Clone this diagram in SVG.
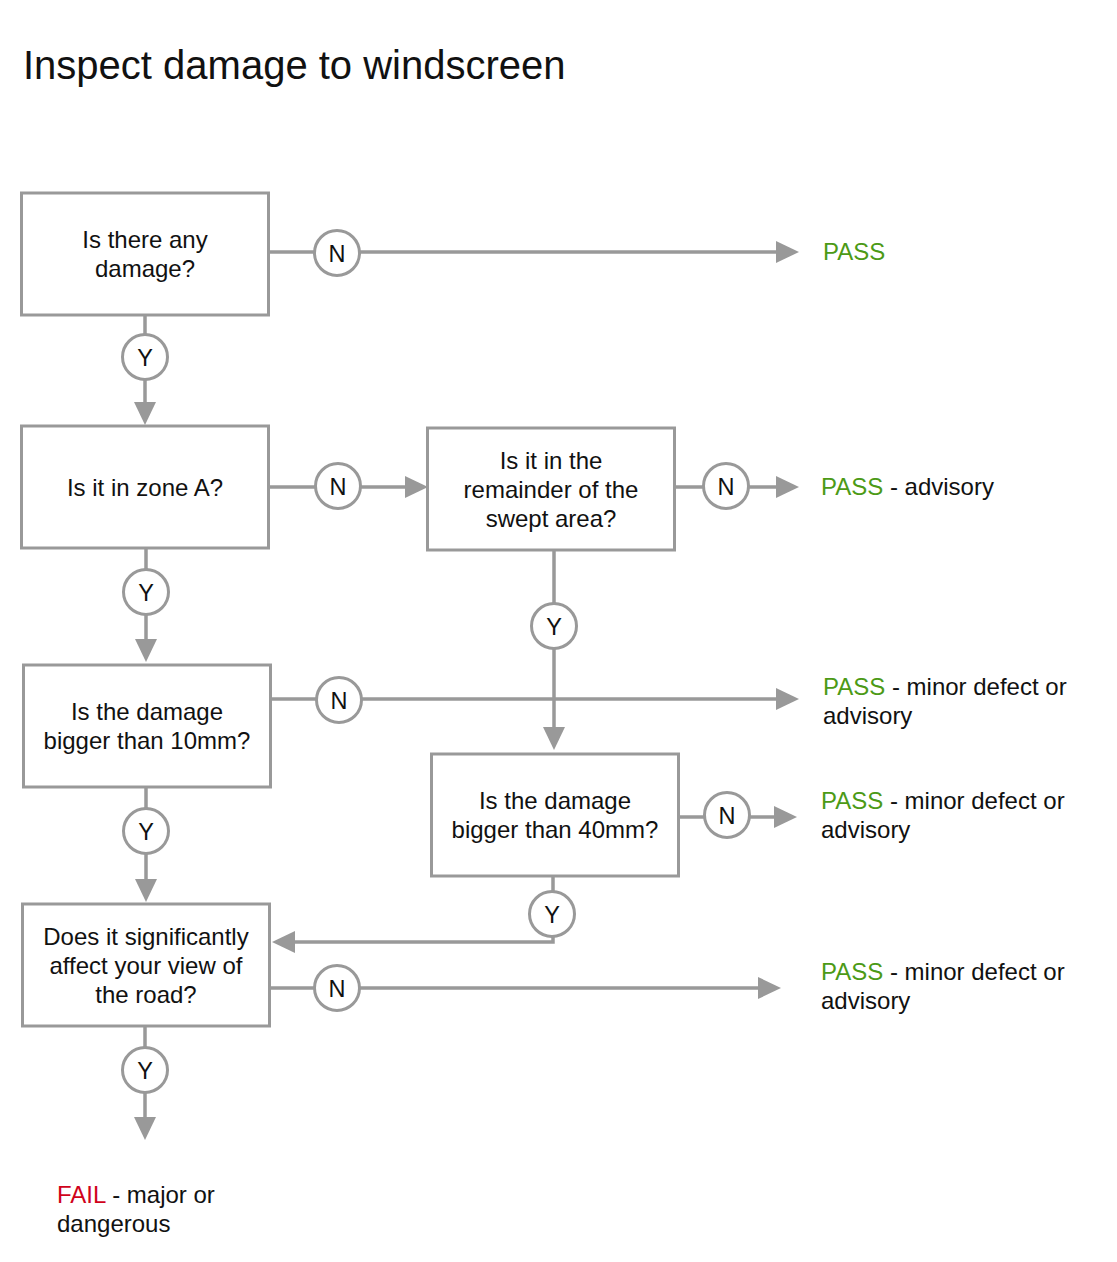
<svg xmlns="http://www.w3.org/2000/svg" width="1117" height="1262" viewBox="0 0 1117 1262">
<style>
text{font-family:"Liberation Sans",Arial,Helvetica,sans-serif;fill:#111}
.box{fill:#fff;stroke:#999;stroke-width:3}
.q{font-size:24px;text-anchor:middle}
.lbl{font-size:24px}
.c{fill:#fff;stroke:#999;stroke-width:3}
.cl{font-size:23.5px;text-anchor:middle}
.ln{fill:none;stroke:#999;stroke-width:3.5}
.pass{fill:#4c9a16}
.fail{fill:#d0021b}
</style>
<defs>
<marker id="ah" markerUnits="userSpaceOnUse" markerWidth="24" markerHeight="24" viewBox="0 0 24 24" refX="1" refY="12" orient="auto">
<path d="M0,1 L23,12 L0,23 z" fill="#999"/>
</marker>
</defs>
<rect width="1117" height="1262" fill="#fff"/>
<text x="23" y="79" style="font-size:40px">Inspect damage to windscreen</text>

<g id="connectors">
<path class="ln" d="M269,252 H777" marker-end="url(#ah)"/>
<path class="ln" d="M145,315 V403" marker-end="url(#ah)"/>
<path class="ln" d="M269,487 H406" marker-end="url(#ah)"/>
<path class="ln" d="M675,487 H777" marker-end="url(#ah)"/>
<path class="ln" d="M146,548 V640" marker-end="url(#ah)"/>
<path class="ln" d="M271,699 H777" marker-end="url(#ah)"/>
<path class="ln" d="M554,550 V728" marker-end="url(#ah)"/>
<path class="ln" d="M679,817 H775" marker-end="url(#ah)"/>
<path class="ln" d="M553,876 V942 H294" marker-end="url(#ah)"/>
<path class="ln" d="M146,787 V880" marker-end="url(#ah)"/>
<path class="ln" d="M270,988 H759" marker-end="url(#ah)"/>
<path class="ln" d="M145,1026 V1118" marker-end="url(#ah)"/>
<g id="lbl-n1"><circle class="c" cx="337" cy="253" r="22.5"/><text class="cl" x="337" y="261.5">N</text></g>
<g id="lbl-y1"><circle class="c" cx="145" cy="357" r="22.5"/><text class="cl" x="145" y="365.5">Y</text></g>
<g id="lbl-n2"><circle class="c" cx="338" cy="486" r="22.5"/><text class="cl" x="338" y="494.5">N</text></g>
<g id="lbl-n3"><circle class="c" cx="726" cy="486" r="22.5"/><text class="cl" x="726" y="494.5">N</text></g>
<g id="lbl-y2"><circle class="c" cx="146" cy="592" r="22.5"/><text class="cl" x="146" y="600.5">Y</text></g>
<g id="lbl-y3"><circle class="c" cx="554" cy="626" r="22.5"/><text class="cl" x="554" y="634.5">Y</text></g>
<g id="lbl-n4"><circle class="c" cx="339" cy="700" r="22.5"/><text class="cl" x="339" y="708.5">N</text></g>
<g id="lbl-n5"><circle class="c" cx="727" cy="815" r="22.5"/><text class="cl" x="727" y="823.5">N</text></g>
<g id="lbl-y4"><circle class="c" cx="146" cy="831" r="22.5"/><text class="cl" x="146" y="839.5">Y</text></g>
<g id="lbl-y5"><circle class="c" cx="552" cy="914" r="22.5"/><text class="cl" x="552" y="922.5">Y</text></g>
<g id="lbl-n6"><circle class="c" cx="337" cy="988" r="22.5"/><text class="cl" x="337" y="996.5">N</text></g>
<g id="lbl-y6"><circle class="c" cx="145" cy="1070" r="22.5"/><text class="cl" x="145" y="1078.5">Y</text></g>
</g>

<g id="q1"><rect class="box" x="21.5" y="193" width="247" height="122"/>
<text class="q" x="145" y="248">Is there any</text><text class="q" x="145" y="277">damage?</text></g>
<g id="q2"><rect class="box" x="21.5" y="426" width="247" height="122"/>
<text class="q" x="145" y="496">Is it in zone A?</text></g>
<g id="q3"><rect class="box" x="427.5" y="428" width="247" height="122"/>
<text class="q" x="551" y="469">Is it in the</text><text class="q" x="551" y="498">remainder of the</text><text class="q" x="551" y="527">swept area?</text></g>
<g id="q4"><rect class="box" x="23.5" y="665" width="247" height="122"/>
<text class="q" x="147" y="720">Is the damage</text><text class="q" x="147" y="749">bigger than 10mm?</text></g>
<g id="q5"><rect class="box" x="431.5" y="754" width="247" height="122"/>
<text class="q" x="555" y="809">Is the damage</text><text class="q" x="555" y="838">bigger than 40mm?</text></g>
<g id="q6"><rect class="box" x="22.5" y="904" width="247" height="122"/>
<text class="q" x="146" y="945">Does it significantly</text><text class="q" x="146" y="974">affect your view of</text><text class="q" x="146" y="1003">the road?</text></g>

<g id="r1"><text class="lbl" x="823" y="260"><tspan class="pass">PASS</tspan></text></g>
<g id="r2"><text class="lbl" x="821" y="495"><tspan class="pass">PASS</tspan> - advisory</text></g>
<g id="r3"><text class="lbl" x="823" y="695"><tspan class="pass">PASS</tspan> - minor defect or</text><text class="lbl" x="823" y="724">advisory</text></g>
<g id="r4"><text class="lbl" x="821" y="809"><tspan class="pass">PASS</tspan> - minor defect or</text><text class="lbl" x="821" y="838">advisory</text></g>
<g id="r5"><text class="lbl" x="821" y="980"><tspan class="pass">PASS</tspan> - minor defect or</text><text class="lbl" x="821" y="1009">advisory</text></g>
<g id="r6"><text class="lbl" x="57" y="1203"><tspan class="fail">FAIL</tspan> - major or</text><text class="lbl" x="57" y="1232">dangerous</text></g>
</svg>
